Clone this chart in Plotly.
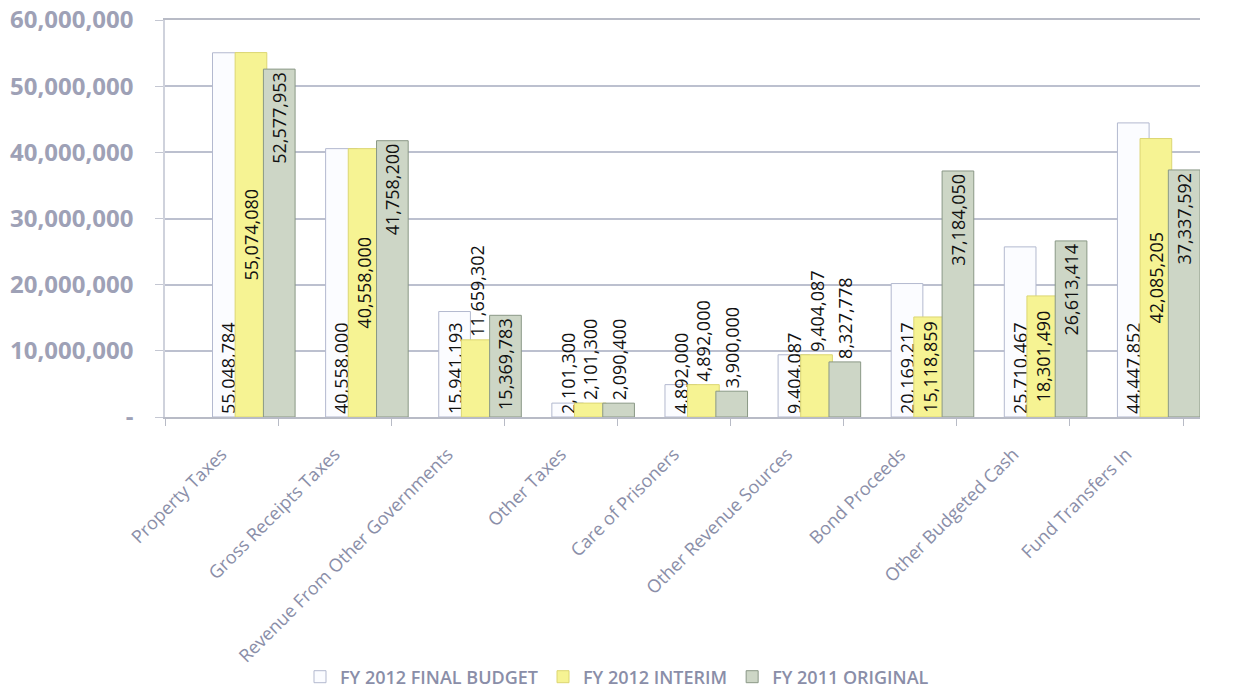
"""Revenue by source — FY 2012 final budget vs interim vs FY 2011 original."""

import plotly.graph_objects as go

# ── data ─────────────────────────────────────────────────────────────

categories = [
    "Property Taxes",
    "Gross Receipts Taxes",
    "Revenue From Other Governments",
    "Other Taxes",
    "Care of Prisoners",
    "Other Revenue Sources",
    "Bond Proceeds",
    "Other Budgeted Cash",
    "Fund Transfers In",
]

fy2012_final = [55048784, 40558000, 15941193, 2101300, 4892000, 9404087, 20169217, 25710467, 44447852]
fy2012_interim = [55074080, 40558000, 11659302, 2101300, 4892000, 9404087, 15118859, 18301490, 42085205]
fy2011_original = [52577953, 41758200, 15369783, 2090400, 3900000, 8327778, 37184050, 26613414, 37337592]

series_names = ["FY 2012 FINAL BUDGET", "FY 2012 INTERIM", "FY 2011 ORIGINAL"]

y_tickvals = [0, 10000000, 20000000, 30000000, 40000000, 50000000, 60000000]
y_ticktext = ["-", "10,000,000", "20,000,000", "30,000,000", "40,000,000", "50,000,000", "60,000,000"]

# ── style ────────────────────────────────────────────────────────────

AXIS_TEXT = "#8a8ea8"
GRID = "#bcc0cf"
FONT = "Open Sans"

W, H = 1234, 691

# fill, outline, label anchor inside the bar, left offset in category units
STYLES = [
    ("#fbfcff", "#b3b9cf", "start", -0.08),
    ("#f6f393", "#dcd672", "middle", 0.12),
    ("#cdd6c6", "#8a9886", "end", 0.37),
]
BAR_WIDTH = 0.28
SHORT_BAR = 14.5e6  # labels of shorter bars do not fit inside


def positions(values, anchor):
    if anchor == "start":
        return ["inside"] * len(values)
    return ["inside" if v > SHORT_BAR else "outside" for v in values]


# ── chart ────────────────────────────────────────────────────────────

fig = go.Figure()

for name, values, (fill, outline, anchor, offset) in zip(
    series_names, [fy2012_final, fy2012_interim, fy2011_original], STYLES
):
    fig.add_trace(
        go.Bar(
            name=name,
            x=categories,
            y=values,
            width=BAR_WIDTH,
            offset=offset,
            marker={"color": fill, "line": {"color": outline, "width": 1}},
            text=[f"{v:,}" for v in values],
            textposition=positions(values, anchor),
            insidetextanchor=anchor,
            textangle=-90,
            constraintext="none",
            textfont={"family": FONT, "size": 18, "color": "#111111"},
            outsidetextfont={"family": FONT, "size": 18, "color": "#111111"},
            cliponaxis=False,
        )
    )

fig.update_layout(
    width=W,
    height=H,
    barmode="group",
    plot_bgcolor="white",
    paper_bgcolor="white",
    margin={"l": 165, "r": 34, "t": 20, "b": 274, "autoexpand": False},
    font={"family": FONT, "color": AXIS_TEXT},
    showlegend=True,
    legend={
        "orientation": "h",
        "xref": "container",
        "yref": "container",
        "x": 0.5,
        "xanchor": "center",
        "y": 1 - 677 / H,
        "yanchor": "middle",
        "font": {"family": FONT, "size": 18, "color": AXIS_TEXT, "weight": 600},
        "itemwidth": 30,
    },
)

fig.update_yaxes(
    range=[0, 60000000],
    tickvals=y_tickvals,
    ticktext=y_ticktext,
    tickfont={"family": FONT, "size": 24, "color": "#9ea1b6", "weight": "bold"},
    ticklabeloverflow="allow",
    showgrid=True,
    gridcolor=GRID,
    gridwidth=1.5,
    showline=True,
    linecolor="#cfd2dc",
    linewidth=1.5,
    ticks="outside",
    ticklen=8,
    tickcolor="#c4c7d2",
    ticklabelstandoff=17,
    zeroline=False,
    automargin=False,
)

fig.update_xaxes(
    range=[-0.5, 8.65],
    tickangle=-45,
    tickfont={"family": FONT, "size": 18, "color": AXIS_TEXT},
    tickson="boundaries",
    ticks="outside",
    ticklen=7,
    tickcolor="#b8bbc6",
    showline=True,
    mirror=True,
    linecolor="#b8bbc6",
    linewidth=1.5,
    ticklabelstandoff=18,
    automargin=False,
)

# drop the page's default body margin so the figure fills the window
fig.write_html(
    "out.html",
    config={"displayModeBar": False},
    post_script="document.body.style.margin = '0';",
)
